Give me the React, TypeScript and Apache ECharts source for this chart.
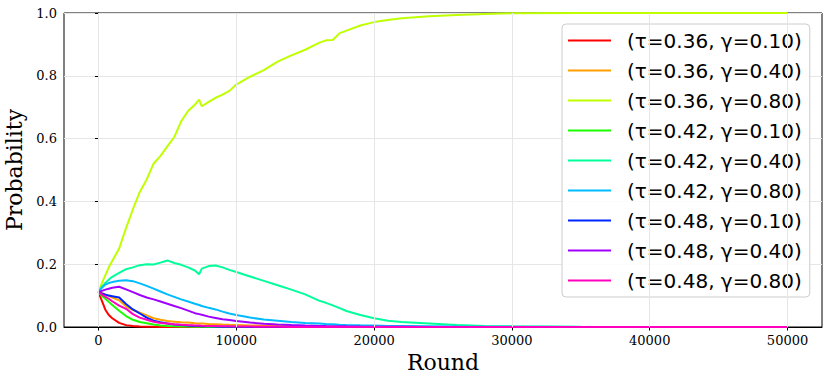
import React, { useEffect, useRef } from "react";
import * as echarts from "echarts";

const rounds = [0, 250, 500, 750, 1000, 1500, 2000, 2500, 3000, 3500, 4000, 4500, 5000, 5500, 6000, 6500, 7000, 7300, 7500, 8000, 8500, 9000, 9500, 10000, 11000, 12000, 13000, 14000, 15000, 16000, 16500, 17000, 17500, 18000, 19000, 20000, 21000, 22000, 24000, 26000, 28000, 30000, 35000, 40000, 45000, 50000];

const seriesNames = [
  "(τ=0.36, γ=0.10)",
  "(τ=0.36, γ=0.40)",
  "(τ=0.36, γ=0.80)",
  "(τ=0.42, γ=0.10)",
  "(τ=0.42, γ=0.40)",
  "(τ=0.42, γ=0.80)",
  "(τ=0.48, γ=0.10)",
  "(τ=0.48, γ=0.40)",
  "(τ=0.48, γ=0.80)",
];

const red = [0.111, 0.083, 0.055, 0.038, 0.028, 0.013, 0.006, 0.003, 0.0015, 0.001, 0.0005, 0, 0, 0, 0, 0, 0, 0, 0, 0, 0, 0, 0, 0, 0, 0, 0, 0, 0, 0, 0, 0, 0, 0, 0, 0, 0, 0, 0, 0, 0, 0, 0, 0, 0, 0];
const orange = [0.111, 0.108, 0.104, 0.099, 0.094, 0.085, 0.066, 0.054, 0.046, 0.037, 0.028, 0.023, 0.019, 0.017, 0.015, 0.014, 0.012, 0.011, 0.011, 0.0096, 0.0088, 0.008, 0.0072, 0.0065, 0.005, 0.0038, 0.003, 0.0022, 0.0016, 0.0012, 0.001, 0.0009, 0.0008, 0.0007, 0.0005, 0.0004, 0.0003, 0.0002, 0.0001, 0, 0, 0, 0, 0, 0, 0];
const lime = [0.111, 0.14, 0.165, 0.19, 0.21, 0.25, 0.315, 0.375, 0.43, 0.47, 0.52, 0.545, 0.575, 0.605, 0.655, 0.688, 0.708, 0.724, 0.703, 0.717, 0.73, 0.74, 0.752, 0.772, 0.797, 0.818, 0.845, 0.865, 0.883, 0.905, 0.913, 0.914, 0.936, 0.944, 0.96, 0.971, 0.978, 0.983, 0.99, 0.994, 0.997, 0.999, 1.0, 1.0, 1.0, 1.0];
const green = [0.111, 0.099, 0.09, 0.08, 0.07, 0.052, 0.035, 0.023, 0.016, 0.012, 0.008, 0.005, 0.0035, 0.0025, 0.0018, 0.0012, 0.0008, 0.0006, 0.0005, 0.0003, 0.0002, 0.0001, 0, 0, 0, 0, 0, 0, 0, 0, 0, 0, 0, 0, 0, 0, 0, 0, 0, 0, 0, 0, 0, 0, 0, 0];
const teal = [0.111, 0.128, 0.14, 0.151, 0.16, 0.172, 0.184, 0.19, 0.197, 0.2, 0.199, 0.205, 0.212, 0.204, 0.198, 0.19, 0.18, 0.168, 0.186, 0.194, 0.196, 0.19, 0.182, 0.175, 0.161, 0.147, 0.133, 0.119, 0.104, 0.084, 0.077, 0.069, 0.06, 0.051, 0.038, 0.028, 0.02, 0.016, 0.011, 0.006, 0.0035, 0.002, 0.0007, 0.0003, 0.0001, 0];
const sky = [0.111, 0.125, 0.135, 0.14, 0.143, 0.147, 0.149, 0.146, 0.139, 0.131, 0.122, 0.113, 0.104, 0.096, 0.088, 0.081, 0.074, 0.07, 0.067, 0.061, 0.056, 0.049, 0.043, 0.038, 0.03, 0.024, 0.02, 0.016, 0.013, 0.011, 0.0095, 0.0085, 0.0075, 0.0067, 0.0055, 0.0045, 0.0035, 0.003, 0.002, 0.0012, 0.0008, 0.0005, 0.0002, 0.0001, 0, 0];
const blue = [0.111, 0.107, 0.103, 0.1, 0.098, 0.094, 0.073, 0.056, 0.043, 0.03, 0.02, 0.015, 0.011, 0.008, 0.006, 0.0045, 0.0035, 0.003, 0.0027, 0.002, 0.0015, 0.0011, 0.0008, 0.0006, 0.0003, 0.0001, 0, 0, 0, 0, 0, 0, 0, 0, 0, 0, 0, 0, 0, 0, 0, 0, 0, 0, 0, 0];
const purple = [0.111, 0.115, 0.119, 0.122, 0.125, 0.128, 0.12, 0.111, 0.102, 0.094, 0.088, 0.081, 0.074, 0.067, 0.06, 0.052, 0.044, 0.041, 0.039, 0.033, 0.029, 0.025, 0.022, 0.019, 0.014, 0.0105, 0.008, 0.006, 0.0045, 0.0035, 0.003, 0.0026, 0.0023, 0.002, 0.0015, 0.0011, 0.0008, 0.0006, 0.0003, 0.0002, 0.0001, 0, 0, 0, 0, 0];
const magenta = [0.111, 0.104, 0.097, 0.09, 0.082, 0.068, 0.058, 0.041, 0.03, 0.023, 0.017, 0.013, 0.011, 0.009, 0.0075, 0.006, 0.005, 0.0045, 0.004, 0.0035, 0.003, 0.0025, 0.002, 0.0017, 0.0012, 0.0008, 0.0005, 0.0003, 0.0002, 0.0001, 0, 0, 0, 0, 0, 0, 0, 0, 0, 0, 0, 0, 0, 0, 0, 0];

const seriesValues = [red, orange, lime, green, teal, sky, blue, purple, magenta];
const seriesColors = ["#ff0000", "#ff9f00", "#bfff00", "#1aff00", "#00ff9a", "#00bbff", "#0026ff", "#a000ff", "#ff00c0"];

const xTicks = [0, 10000, 20000, 30000, 40000, 50000];

export default function App() {
  const ref = useRef<HTMLDivElement>(null);
  useEffect(() => {
    if (!ref.current) return;
    const chart = echarts.init(ref.current, null, { renderer: "svg" });
    const serif = "DejaVu Serif";
    const lines = seriesNames.map((name, k) => ({
      name,
      type: "line",
      data: rounds.map((r, i) => [r, seriesValues[k][i]]),
      symbol: "none",
      showSymbol: false,
      z: 3,
      lineStyle: { color: seriesColors[k], width: 2 },
      itemStyle: { color: seriesColors[k] },
    }));
    chart.setOption({
      animation: false,
      backgroundColor: "#ffffff",
      grid: {
        left: 64,
        right: 8,
        top: 13,
        bottom: 56,
        containLabel: false,
        outerBoundsMode: "none",
        show: true,
        borderColor: "#000",
        borderWidth: 1,
        backgroundColor: "transparent",
      },
      xAxis: {
        type: "value",
        min: -2500,
        max: 52500,
        name: "Round",
        nameLocation: "middle",
        nameGap: 21,
        nameTextStyle: { fontFamily: serif, fontSize: 22, color: "#000" },
        axisLine: { show: true, lineStyle: { color: "#000", width: 1 } },
        axisTick: { show: true, length: 3.5, lineStyle: { color: "#000" }, customValues: xTicks },
        axisLabel: {
          fontFamily: serif,
          fontSize: 13,
          color: "#000",
          margin: 7,
          customValues: xTicks,
          formatter: (v: number) => String(Math.round(v)),
        },
        splitLine: { show: false },
      },
      yAxis: {
        type: "value",
        min: 0,
        max: 1,
        interval: 0.2,
        name: "Probability",
        nameLocation: "middle",
        nameGap: 33,
        nameTextStyle: { fontFamily: serif, fontSize: 22, color: "#000" },
        axisLine: { show: true, lineStyle: { color: "#000", width: 1 } },
        axisTick: { show: true, length: 3.5, lineStyle: { color: "#000" } },
        axisLabel: {
          fontFamily: serif,
          fontSize: 13,
          color: "#000",
          margin: 7,
          formatter: (v: number) => v.toFixed(1),
        },
        splitLine: { show: true, lineStyle: { color: "#e6e6e6", width: 1 } },
      },
      legend: {
        data: seriesNames,
        orient: "vertical",
        left: 562,
        top: 24,
        padding: [5, 8, 5, 6],
        icon: "rect",
        itemWidth: 43,
        itemHeight: 2,
        itemGap: 7,
        backgroundColor: "rgba(255,255,255,0.85)",
        borderColor: "#cccccc",
        borderWidth: 1,
        borderRadius: 4,
        textStyle: {
          fontFamily: "DejaVu Sans",
          fontSize: 20,
          color: "#000",
          lineHeight: 23,
          padding: [0, 0, 0, 11],
        },
      },
      series: [
        {
          name: "__grid",
          type: "line",
          data: [],
          z: 1,
          silent: true,
          markLine: {
            silent: true,
            symbol: ["none", "none"],
            label: { show: false },
            lineStyle: { color: "#e6e6e6", width: 1, type: "solid" },
            emphasis: { disabled: true },
            data: xTicks.map((v) => ({ xAxis: v })),
          },
        },
        ...lines,
      ],
    });
    return () => chart.dispose();
  }, []);
  return (
    <div
      ref={ref}
      style={{ position: "fixed", left: 0, top: 0, width: 830, height: 383, background: "#fff" }}
    />
  );
}
